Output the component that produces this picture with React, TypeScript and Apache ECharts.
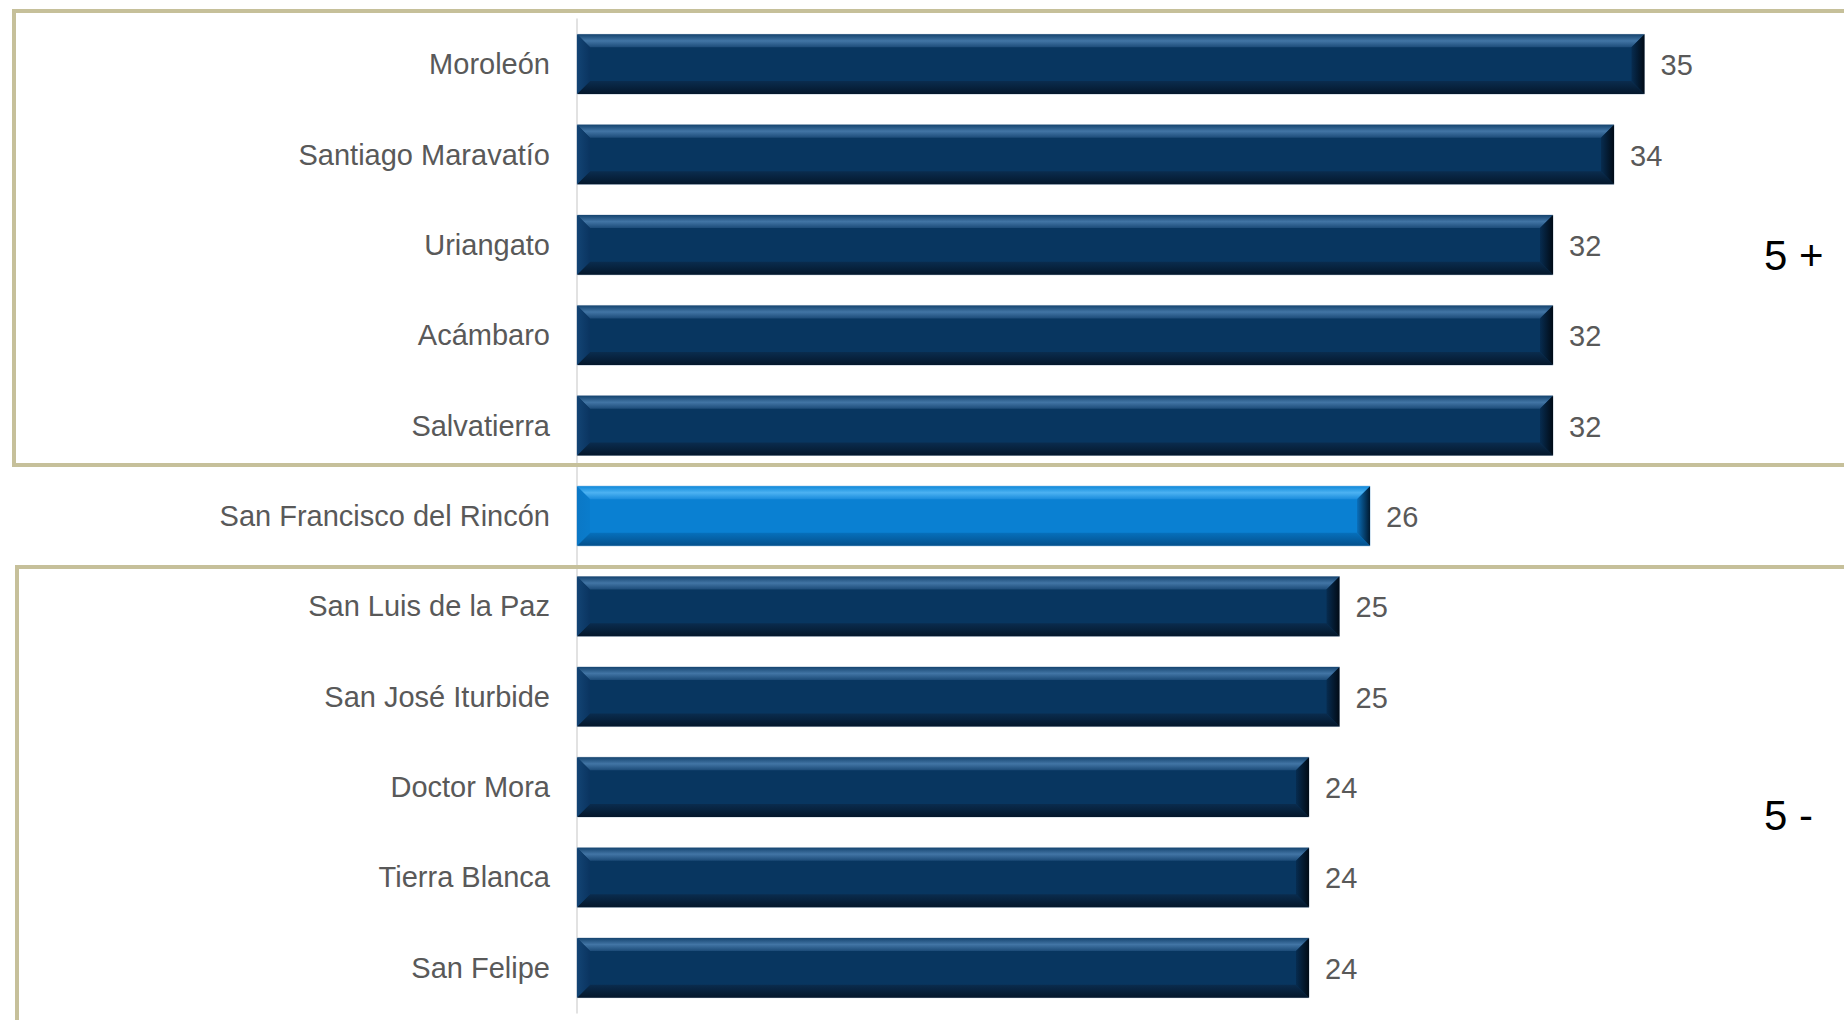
import React, { useEffect, useRef } from "react";
import * as echarts from "echarts";

const categories = [
  "Moroleón",
  "Santiago Maravatío",
  "Uriangato",
  "Acámbaro",
  "Salvatierra",
  "San Francisco del Rincón",
  "San Luis de la Paz",
  "San José Iturbide",
  "Doctor Mora",
  "Tierra Blanca",
  "San Felipe",
];
const values = [35, 34, 32, 32, 32, 26, 25, 25, 24, 24, 24];
const highlighted = [false, false, false, false, false, true, false, false, false, false, false];
const groupLabels = ["5 +", "5 -"];

const FONT = '"Liberation Sans", Arial, Helvetica, sans-serif';

const navy = {
  face: "#083660",
  top: ["#15446f", "#4275a5", "#1c4b78"],
  bottom: ["#0a2c4e", "#04172b"],
  left: ["#134474", "#0a3460"],
  right: ["#072c50", "#010b16"],
  outline: "#b9c7d6",
};
const bright = {
  face: "#0a80d2",
  top: ["#1089da", "#4cb2f2", "#1a8cdc"],
  bottom: ["#0670bc", "#04508c"],
  left: ["#0b78c6", "#0a7ccc"],
  right: ["#0a70bc", "#011a30"],
  outline: "#a6c9e6",
};

export default function App() {
  const ref = useRef<HTMLDivElement>(null);
  useEffect(() => {
    if (!ref.current) return;
    const chart = echarts.init(ref.current, undefined, { renderer: "svg" });
    const lg = (stops: string[]) =>
      new echarts.graphic.LinearGradient(
        0,
        0,
        0,
        1,
        stops.map((c, i) => ({ offset: i / (stops.length - 1), color: c }))
      );
    const lgH = (stops: string[]) =>
      new echarts.graphic.LinearGradient(
        0,
        0,
        1,
        0,
        stops.map((c, i) => ({ offset: i / (stops.length - 1), color: c }))
      );

    const option: any = {
      animation: false,
      backgroundColor: "#ffffff",
      grid: { left: 577, top: 19, bottom: 7, right: 47, containLabel: false },
      xAxis: {
        type: "value",
        min: 0,
        max: 40,
        show: false,
      },
      yAxis: {
        type: "category",
        data: categories,
        inverse: true,
        axisTick: { show: false },
        axisLine: { show: true, lineStyle: { color: "#d9d9d9", width: 1.5 } },
        axisLabel: {
          fontSize: 29,
          color: "#595959",
          fontFamily: FONT,
          margin: 27,
        },
      },
      graphic: [
        {
          type: "rect",
          z: 100,
          shape: { x: 14, y: 11, width: 1900, height: 454 },
          style: { fill: "none", stroke: "#c6c09a", lineWidth: 4 },
        },
        {
          type: "rect",
          z: 100,
          shape: { x: 17, y: 567, width: 1900, height: 520 },
          style: { fill: "none", stroke: "#c6c09a", lineWidth: 4 },
        },
        {
          type: "text",
          x: 1764,
          y: 255,
          style: {
            text: groupLabels[0],
            fill: "#000000",
            font: `42px ${FONT}`,
            textAlign: "left",
            textVerticalAlign: "middle",
            verticalAlign: "middle",
          },
        },
        {
          type: "text",
          x: 1764,
          y: 815,
          style: {
            text: groupLabels[1],
            fill: "#000000",
            font: `42px ${FONT}`,
            textAlign: "left",
            textVerticalAlign: "middle",
            verticalAlign: "middle",
          },
        },
      ],
      series: [
        {
          type: "custom",
          encode: { x: 0, y: 1 },
          data: values.map((v, i) => [v, i]),
          renderItem: (params: any, api: any) => {
            const v = api.value(0);
            const i = api.value(1);
            const start = api.coord([0, i]);
            const end = api.coord([v, i]);
            const band = api.size([0, 1])[1];
            const h = band * 0.66;
            const x0 = start[0];
            const x1 = end[0];
            const yc = end[1];
            const yt = yc - h / 2;
            const yb = yc + h / 2;
            const b = 13;
            const c = highlighted[i] ? bright : navy;
            return {
              type: "group",
              children: [
                {
                  type: "rect",
                  shape: { x: x0, y: yt, width: x1 - x0, height: h },
                  style: { fill: c.face, stroke: c.outline, lineWidth: 1 },
                },
                {
                  type: "polygon",
                  shape: { points: [[x0, yt], [x1, yt], [x1 - b, yt + b], [x0 + b, yt + b]] },
                  style: { fill: lg(c.top) },
                },
                {
                  type: "polygon",
                  shape: { points: [[x0, yb], [x1, yb], [x1 - b, yb - b], [x0 + b, yb - b]] },
                  style: { fill: lg(c.bottom) },
                },
                {
                  type: "polygon",
                  shape: { points: [[x0, yt], [x0 + b, yt + b], [x0 + b, yb - b], [x0, yb]] },
                  style: { fill: lgH(c.left) },
                },
                {
                  type: "polygon",
                  shape: { points: [[x1, yt], [x1 - b, yt + b], [x1 - b, yb - b], [x1, yb]] },
                  style: { fill: lgH(c.right) },
                },
                {
                  type: "text",
                  x: x1 + 16,
                  y: yc + 1,
                  style: {
                    text: String(v),
                    fill: "#595959",
                    font: `29px ${FONT}`,
                    textAlign: "left",
                    textVerticalAlign: "middle",
                    verticalAlign: "middle",
                  },
                },
              ],
            };
          },
        },
      ],
    };
    chart.setOption(option);
    return () => chart.dispose();
  }, []);
  return (
    <div
      ref={ref}
      style={{ position: "fixed", left: 0, top: 0, width: 1844, height: 1020, background: "#fff" }}
    />
  );
}
